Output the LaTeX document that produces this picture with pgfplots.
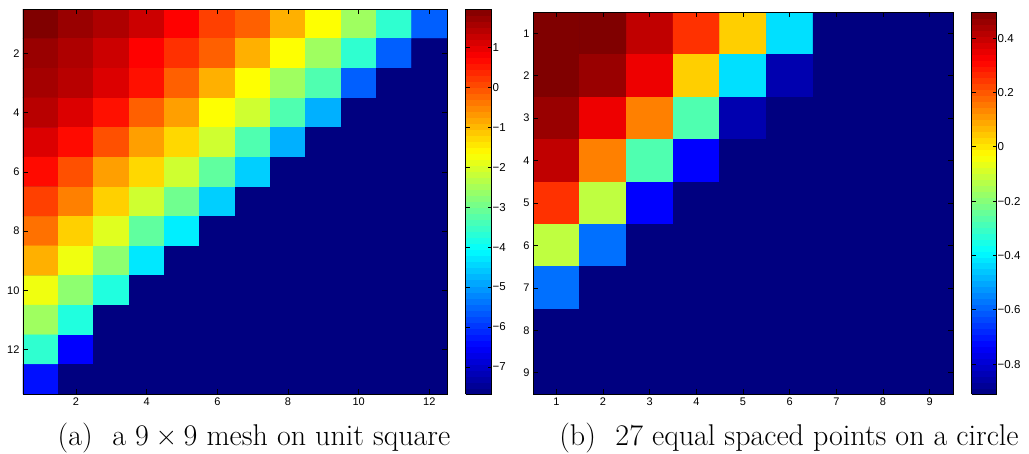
\documentclass[border=0pt]{standalone}
\usepackage{fontspec}
\usepackage{pgfplots}
\pgfplotsset{compat=1.18}
\newfontfamily\tickfont{Liberation Sans}

% coefficient magnitudes (log10), 13 x 12 block
\pgfplotstableread[row sep=\\]{
x y c\\
1 1 1.97\\ 2 1 1.73\\ 3 1 1.54\\ 4 1 1.25\\ 5 1 0.76\\ 6 1 0.16\\ 7 1 -0.14\\ 8 1 -0.90\\ 9 1 -1.65\\ 10 1 -2.55\\ 11 1 -3.61\\ 12 1 -5.57\\
1 2 1.73\\ 2 2 1.54\\ 3 2 1.25\\ 4 2 0.76\\ 5 2 0.31\\ 6 2 -0.14\\ 7 2 -0.90\\ 8 2 -1.65\\ 9 2 -2.55\\ 10 2 -3.61\\ 11 2 -5.57\\ 12 2 -7.68\\
1 3 1.63\\ 2 3 1.44\\ 3 3 1.10\\ 4 3 0.62\\ 5 3 -0.14\\ 6 3 -0.90\\ 7 3 -1.65\\ 8 3 -2.55\\ 9 3 -3.31\\ 10 3 -5.57\\ 11 3 -7.68\\ 12 3 -7.68\\
1 4 1.44\\ 2 4 1.10\\ 3 4 0.62\\ 4 4 -0.14\\ 5 4 -0.74\\ 6 4 -1.65\\ 7 4 -2.10\\ 8 4 -3.31\\ 9 4 -4.81\\ 10 4 -7.68\\ 11 4 -7.68\\ 12 4 -7.68\\
1 5 1.10\\ 2 5 0.67\\ 3 5 0.01\\ 4 5 -0.74\\ 5 5 -1.28\\ 6 5 -2.10\\ 7 5 -3.31\\ 8 5 -4.81\\ 9 5 -7.68\\ 10 5 -7.68\\ 11 5 -7.68\\ 12 5 -7.68\\
1 6 0.67\\ 2 6 0.01\\ 3 6 -0.74\\ 4 6 -1.28\\ 5 6 -2.10\\ 6 6 -3.15\\ 7 6 -4.51\\ 8 6 -7.68\\ 9 6 -7.68\\ 10 6 -7.68\\ 11 6 -7.68\\ 12 6 -7.68\\
1 7 0.16\\ 2 7 -0.44\\ 3 7 -1.20\\ 4 7 -2.10\\ 5 7 -3.00\\ 6 7 -4.51\\ 7 7 -7.68\\ 8 7 -7.68\\ 9 7 -7.68\\ 10 7 -7.68\\ 11 7 -7.68\\ 12 7 -7.68\\
1 8 -0.30\\ 2 8 -1.20\\ 3 8 -1.94\\ 4 8 -3.15\\ 5 8 -4.21\\ 6 8 -7.68\\ 7 8 -7.68\\ 8 8 -7.68\\ 9 8 -7.68\\ 10 8 -7.68\\ 11 8 -7.68\\ 12 8 -7.68\\
1 9 -0.90\\ 2 9 -1.79\\ 3 9 -2.71\\ 4 9 -4.28\\ 5 9 -7.68\\ 6 9 -7.68\\ 7 9 -7.68\\ 8 9 -7.68\\ 9 9 -7.68\\ 10 9 -7.68\\ 11 9 -7.68\\ 12 9 -7.68\\
1 10 -1.79\\ 2 10 -2.71\\ 3 10 -3.76\\ 4 10 -7.68\\ 5 10 -7.68\\ 6 10 -7.68\\ 7 10 -7.68\\ 8 10 -7.68\\ 9 10 -7.68\\ 10 10 -7.68\\ 11 10 -7.68\\ 12 10 -7.68\\
1 11 -2.55\\ 2 11 -3.76\\ 3 11 -7.68\\ 4 11 -7.68\\ 5 11 -7.68\\ 6 11 -7.68\\ 7 11 -7.68\\ 8 11 -7.68\\ 9 11 -7.68\\ 10 11 -7.68\\ 11 11 -7.68\\ 12 11 -7.68\\
1 12 -3.61\\ 2 12 -6.47\\ 3 12 -7.68\\ 4 12 -7.68\\ 5 12 -7.68\\ 6 12 -7.68\\ 7 12 -7.68\\ 8 12 -7.68\\ 9 12 -7.68\\ 10 12 -7.68\\ 11 12 -7.68\\ 12 12 -7.68\\
1 13 -6.33\\ 2 13 -7.68\\ 3 13 -7.68\\ 4 13 -7.68\\ 5 13 -7.68\\ 6 13 -7.68\\ 7 13 -7.68\\ 8 13 -7.68\\ 9 13 -7.68\\ 10 13 -7.68\\ 11 13 -7.68\\ 12 13 -7.68\\
}\meshtable

% 9 x 9 block for points on a circle
\pgfplotstableread[row sep=\\]{
x y c\\
1 1 0.496\\ 2 1 0.496\\ 3 1 0.408\\ 4 1 0.253\\ 5 1 0.035\\ 6 1 -0.425\\ 7 1 -0.91\\ 8 1 -0.91\\ 9 1 -0.91\\
1 2 0.496\\ 2 2 0.461\\ 3 2 0.345\\ 4 2 0.035\\ 5 2 -0.425\\ 6 2 -0.844\\ 7 2 -0.91\\ 8 2 -0.91\\ 9 2 -0.91\\
1 3 0.461\\ 2 3 0.345\\ 3 3 0.145\\ 4 3 -0.273\\ 5 3 -0.844\\ 6 3 -0.91\\ 7 3 -0.91\\ 8 3 -0.91\\ 9 3 -0.91\\
1 4 0.408\\ 2 4 0.145\\ 3 4 -0.273\\ 4 4 -0.734\\ 5 4 -0.91\\ 6 4 -0.91\\ 7 4 -0.91\\ 8 4 -0.91\\ 9 4 -0.91\\
1 5 0.253\\ 2 5 -0.119\\ 3 5 -0.734\\ 4 5 -0.91\\ 5 5 -0.91\\ 6 5 -0.91\\ 7 5 -0.91\\ 8 5 -0.91\\ 9 5 -0.91\\
1 6 -0.119\\ 2 6 -0.580\\ 3 6 -0.91\\ 4 6 -0.91\\ 5 6 -0.91\\ 6 6 -0.91\\ 7 6 -0.91\\ 8 6 -0.91\\ 9 6 -0.91\\
1 7 -0.580\\ 2 7 -0.91\\ 3 7 -0.91\\ 4 7 -0.91\\ 5 7 -0.91\\ 6 7 -0.91\\ 7 7 -0.91\\ 8 7 -0.91\\ 9 7 -0.91\\
1 8 -0.91\\ 2 8 -0.91\\ 3 8 -0.91\\ 4 8 -0.91\\ 5 8 -0.91\\ 6 8 -0.91\\ 7 8 -0.91\\ 8 8 -0.91\\ 9 8 -0.91\\
1 9 -0.91\\ 2 9 -0.91\\ 3 9 -0.91\\ 4 9 -0.91\\ 5 9 -0.91\\ 6 9 -0.91\\ 7 9 -0.91\\ 8 9 -0.91\\ 9 9 -0.91\\
}\circletable

\definecolor{jetfloor}{rgb}{0,0,0.5}

\pgfplotsset{
  colormap={matjet}{rgb=(0,0,0.5) rgb=(0,0,1) rgb=(0,0.5,1) rgb=(0,1,1) rgb=(0.5,1,0.5) rgb=(1,1,0) rgb=(1,0.5,0) rgb=(1,0,0) rgb=(0.5,0,0)},
  matstyle/.style={
    scale only axis,
    y dir=reverse,
    colormap name=matjet,
    axis background/.style={fill=jetfloor},
    axis line style={line width=0.8pt},
    tick style={black, line width=0.7pt},
    major tick length=5pt,
    tick align=inside,
    xtick pos=both, ytick pos=both,
    xticklabel pos=lower, yticklabel pos=left,
    /pgf/number format/assume math mode=true,
    ticklabel style={font=\tickfont\fontsize{11}{11}\selectfont},
    enlargelimits=false,
    axis on top,
  },
  cbstyle/.style={
    at={(parent axis.north east)}, anchor=north west,
    width=26pt,
    axis line style={line width=0.8pt},
    tick style={black, line width=0.7pt},
    major tick length=4pt,
    ytick pos=both, yticklabel pos=right,
    yticklabel style={font=\tickfont\fontsize{11.5}{11.5}\selectfont, inner sep=1pt},
    samples=65,
  },
}

\begin{document}
\begin{tikzpicture}
\useasboundingbox (0pt,0pt) rectangle (1029pt,-453pt);

\begin{axis}[matstyle,
  at={(23pt,-9pt)}, anchor=north west,
  width=424pt, height=385pt,
  xmin=0.5, xmax=12.5, ymin=0.5, ymax=13.5,
  xtick={2,4,...,12}, ytick={2,4,...,12},
  point meta min=-7.68, point meta max=1.97,
  colorbar sampled,
  colorbar style={cbstyle, xshift=10pt,
    ytick={-7,-6,-5,-4,-3,-2,-1,0,1},
    yticklabels={−7,−6,−5,−4,−3,−2,−1,0,1}},
]
\addplot[matrix plot*, mesh/cols=12, point meta=explicit]
  table[x=x, y=y, meta=c] {\meshtable};
\end{axis}

\begin{axis}[matstyle,
  at={(533pt,-12pt)}, anchor=north west,
  width=420pt, height=382pt,
  xmin=0.5, xmax=9.5, ymin=0.5, ymax=9.5,
  xtick={1,...,9}, ytick={1,...,9},
  point meta min=-0.91, point meta max=0.496,
  colorbar sampled,
  colorbar style={cbstyle, xshift=10pt, width=25pt,
    ytick={-0.8,-0.6,-0.4,-0.2,0,0.2,0.4},
    yticklabels={−0.8,−0.6,−0.4,−0.2,0,0.2,0.4}},
]
\addplot[matrix plot*, mesh/cols=9, point meta=explicit]
  table[x=x, y=y, meta=c] {\circletable};
\end{axis}

\node[anchor=base, font=\fontsize{30}{36}\selectfont, inner sep=0pt]
  at (254pt,-445pt) {(a)\hspace{0.35em} a 9\kern0.22em×\kern0.22em9 mesh on unit square};
\node[anchor=base, font=\fontsize{30}{36}\selectfont, inner sep=0pt]
  at (789pt,-445pt) {(b)\hspace{0.35em} 27 equal spaced points on a circle};
\end{tikzpicture}
\end{document}
